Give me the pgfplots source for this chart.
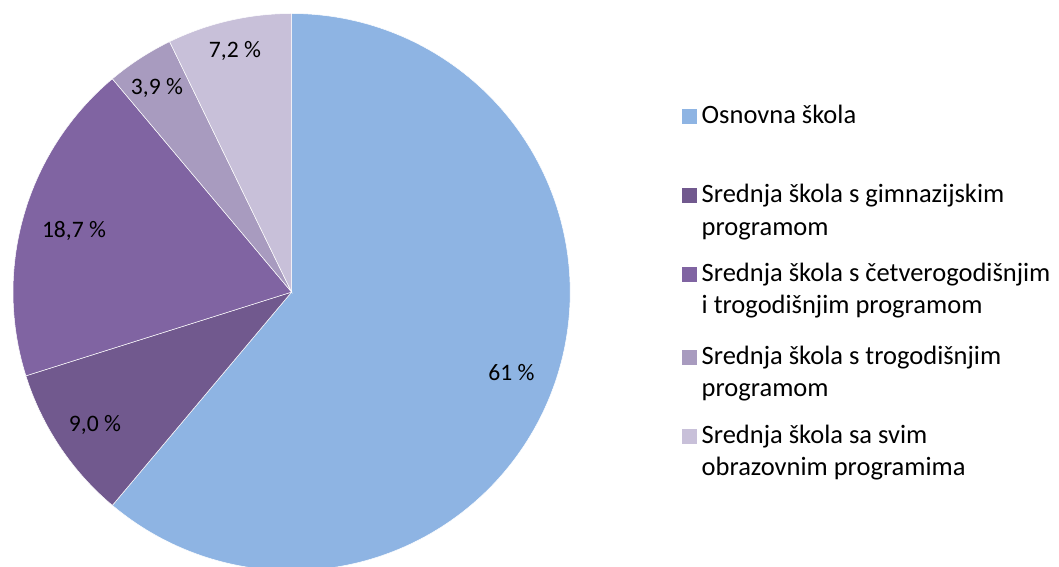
\documentclass[border=0pt]{standalone}
\usepackage{fontspec}
\setmainfont{Carlito}
\usepackage{pgfplots}
\pgfplotsset{compat=1.18}
\definecolor{c1}{HTML}{8EB4E3}
\definecolor{c2}{HTML}{71598E}
\definecolor{c3}{HTML}{8064A2}
\definecolor{c4}{HTML}{A89BBF}
\definecolor{c5}{HTML}{C8C0D9}
\newcommand{\legfont}{\fontsize{26.5bp}{32.7bp}\selectfont}
\newcommand{\labfont}{\fontsize{23.6bp}{28bp}\selectfont}
\begin{document}
\begin{tikzpicture}[x=1bp,y=1bp]
\useasboundingbox (0,0) rectangle (1059,567);
% shares in percent (clockwise from 12 o'clock)
\pgfmathsetmacro{\vA}{61}
\pgfmathsetmacro{\vB}{9.0}
\pgfmathsetmacro{\vC}{18.7}
\pgfmathsetmacro{\vD}{3.9}
\pgfmathsetmacro{\vE}{7.2}
\pgfmathsetmacro{\tot}{\vA+\vB+\vC+\vD+\vE}
\pgfmathsetmacro{\aA}{90}
\pgfmathsetmacro{\aB}{90-\vA/\tot*360}
\pgfmathsetmacro{\aC}{90-(\vA+\vB)/\tot*360}
\pgfmathsetmacro{\aD}{90-(\vA+\vB+\vC)/\tot*360}
\pgfmathsetmacro{\aE}{90-(\vA+\vB+\vC+\vD)/\tot*360}
\pgfmathsetmacro{\aF}{90-360}
\begin{axis}[hide axis, x=278.6bp, y=278.6bp,
  xmin=-1.05, xmax=1.05, ymin=-0.9867, ymax=1.05,
  at={(291.6bp,274.9bp)}, anchor=origin, clip=true]
\addplot[fill=c1, draw=white, line width=0.5bp, data cs=polar, domain=\aB:\aA, samples=180] {1} -- (axis cs:0,0) -- cycle;
\addplot[fill=c2, draw=white, line width=0.5bp, data cs=polar, domain=\aC:\aB, samples=40] {1} -- (axis cs:0,0) -- cycle;
\addplot[fill=c3, draw=white, line width=0.5bp, data cs=polar, domain=\aD:\aC, samples=60] {1} -- (axis cs:0,0) -- cycle;
\addplot[fill=c4, draw=white, line width=0.5bp, data cs=polar, domain=\aE:\aD, samples=20] {1} -- (axis cs:0,0) -- cycle;
\addplot[fill=c5, draw=white, line width=0.5bp, data cs=polar, domain=\aF:\aE, samples=30] {1} -- (axis cs:0,0) -- cycle;
\end{axis}
% data labels
\node[anchor=base, font=\labfont, inner sep=0] at (511.5,{567-380.7}) {61 \%};
\node[anchor=base, font=\labfont, inner sep=0] at (95,{567-431.7}) {9,0 \%};
\node[anchor=base, font=\labfont, inner sep=0] at (74,{567-237.3}) {18,7 \%};
\node[anchor=base, font=\labfont, inner sep=0] at (157,{567-95}) {3,9 \%};
\node[anchor=base, font=\labfont, inner sep=0] at (235,{567-57.3}) {7,2 \%};
% legend
\fill[c1] (682.3,{567-123.3-0.6}) rectangle ++(15,15);
\node[anchor=base west, font=\legfont, inner sep=0] at (701.5,{567-123.3}) {Osnovna škola};
\fill[c2] (682.3,{567-202.7-0.6}) rectangle ++(15,15);
\node[anchor=base west, font=\legfont, inner sep=0] at (701.5,{567-202.7}) {Srednja škola s gimnazijskim};
\node[anchor=base west, font=\legfont, inner sep=0] at (701.5,{567-202.7-32.7}) {programom};
\fill[c3] (682.3,{567-281.7-0.6}) rectangle ++(15,15);
\node[anchor=base west, font=\legfont, inner sep=0] at (701.5,{567-281.7}) {Srednja škola s četverogodišnjim};
\node[anchor=base west, font=\legfont, inner sep=0] at (701.5,{567-281.7-32.0}) {i trogodišnjim programom};
\fill[c4] (682.3,{567-364.3-0.6}) rectangle ++(15,15);
\node[anchor=base west, font=\legfont, inner sep=0] at (701.5,{567-364.3}) {Srednja škola s trogodišnjim};
\node[anchor=base west, font=\legfont, inner sep=0] at (701.5,{567-364.3-32.4}) {programom};
\fill[c5] (682.3,{567-443.3-0.6}) rectangle ++(15,15);
\node[anchor=base west, font=\legfont, inner sep=0] at (701.5,{567-443.3}) {Srednja škola sa svim};
\node[anchor=base west, font=\legfont, inner sep=0] at (701.5,{567-443.3-32.7}) {obrazovnim programima};
\end{tikzpicture}
\end{document}
